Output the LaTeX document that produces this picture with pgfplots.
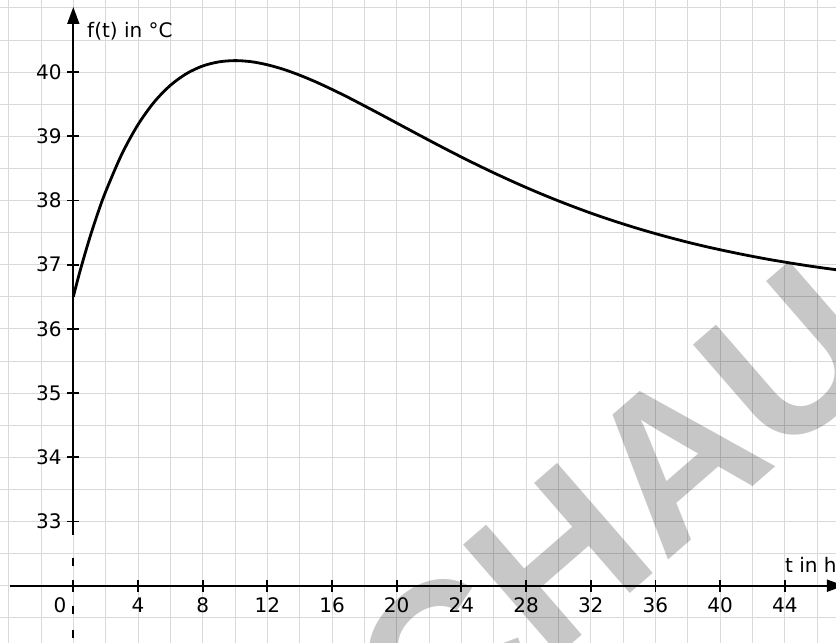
\documentclass[border=0pt]{standalone}
\usepackage{pgfplots}
\pgfplotsset{compat=1.18}
\usetikzlibrary{arrows.meta}
\usepackage{fontspec}
\setmainfont{DejaVu Sans}
\newfontfamily\wm{Liberation Sans}
\begin{document}
\fontsize{20}{24}\selectfont
\begin{tikzpicture}
\begin{axis}[
  scale only axis, width=836pt, height=643pt,
  xmin=-4.533, xmax=47.167, ymin=31.1075, ymax=41.123,
  clip=false,
  axis line style={draw=none},
  xtick={-4,-2,...,46}, ytick={31.5,32,...,41},
  xticklabels={}, yticklabels={},
  tick style={draw=none},
  grid=major, major grid style={draw=gray!30, line width=0.8pt},
]
\coordinate (SW) at (rel axis cs:0,0);
\coordinate (NE) at (rel axis cs:1,1);
% watermark
\node[overlay, rotate=41, anchor=base east, inner sep=0, text=black, text opacity=0.22,
      font=\wm\bfseries\fontsize{212}{212}\selectfont] at (axis cs:50.85,35.47) {VORSCHAU};
% axes
\draw[line width=1.8pt, -{Triangle[length=17pt,width=12pt]}] (axis cs:-3.91,32) -- (axis cs:47.66,32);
\draw[line width=1.8pt, -{Triangle[length=17pt,width=12pt]}] (axis cs:0,32.79) -- (axis cs:0,41.014);
\draw[line width=1.8pt, dash pattern=on 8pt off 16pt] (axis cs:0,32.436) -- (axis cs:0,31.1);
\pgfplotsinvokeforeach{0,4,...,44}{\draw[line width=1.8pt] ([yshift=-6pt]axis cs:#1,32) -- ([yshift=6pt]axis cs:#1,32);}
\pgfplotsinvokeforeach{33,...,40}{\draw[line width=1.8pt] ([xshift=-6pt]axis cs:0,#1) -- ([xshift=6pt]axis cs:0,#1);}
\pgfplotsinvokeforeach{4,8,...,44}{\node[anchor=north, inner sep=0, yshift=-12pt] at (axis cs:#1,32) {#1};}
\node[anchor=north, inner sep=0, yshift=-12pt] at (axis cs:-0.82,32) {0};
\pgfplotsinvokeforeach{33,...,40}{\node[anchor=east, inner sep=0, xshift=-11.5pt] at (axis cs:0,#1) {#1};}
\node[anchor=base west, inner sep=0] at (axis cs:0.85,40.539) {f(t) in °C};
\node[anchor=base west, inner sep=0] at (axis cs:44.01,32.209) {t in h};
% curve
\addplot[black, line width=2.8pt, smooth] coordinates {
(0,36.500)(0.25,36.744)(0.5,36.976)(1,37.405)(1.5,37.791)(2,38.137)(3,38.722)(4,39.181)
(5,39.533)(6,39.793)(7,39.976)(8,40.095)(9,40.159)(10,40.179)(11,40.162)(12,40.114)
(13,40.043)(14,39.952)(15,39.847)(16,39.730)(17,39.606)(18,39.475)(19,39.342)(20,39.207)
(21,39.072)(22,38.938)(23,38.806)(24,38.677)(25,38.552)(26,38.431)(27,38.315)(28,38.203)
(29,38.096)(30,37.994)(31,37.897)(32,37.804)(33,37.717)(34,37.635)(35,37.557)(36,37.484)
(37,37.415)(38,37.350)(39,37.289)(40,37.233)(41,37.180)(42,37.130)(43,37.083)(44,37.040)
(45,37.000)(46,36.962)(47.5,36.911)
};
\end{axis}
\pgfresetboundingbox
\useasboundingbox (SW) rectangle (NE);
\end{tikzpicture}
\end{document}
